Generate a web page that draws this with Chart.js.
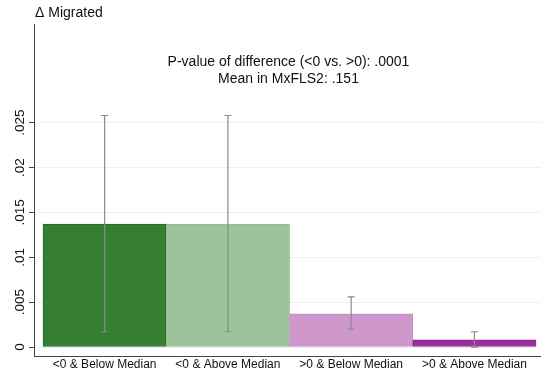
<!DOCTYPE html>
<html>
<head>
<meta charset="utf-8">
<script src="https://cdn.jsdelivr.net/npm/chart.js@4"></script>
<style>
  html, body { margin: 0; padding: 0; background: #fff; }
  #wrap { width: 541px; height: 369px; position: relative; }
</style>
</head>
<body>
<div id="wrap"><canvas id="chart"></canvas></div>
<script>
// Data
const categories = ['<0 & Below Median', '<0 & Above Median', '>0 & Below Median', '>0 & Above Median'];
const means = [0.0137, 0.0137, 0.0037, 0.0008];
const lower = [0.0017, 0.0017, 0.0020, 0.0000];
const upper = [0.0258, 0.0258, 0.0056, 0.0017];
const yTicks = [0, 0.005, 0.01, 0.015, 0.02, 0.025];
const yTickLabels = ['0', '.005', '.01', '.015', '.02', '.025'];
const notes = ['P-value of difference (<0 vs. >0): .0001', 'Mean in MxFLS2: .151'];

const fills = ['#357e32', '#9cc39a', '#cf98cc', '#9c2e9c'];
const borders = ['#1f6b1c', '#92bb90', '#c68cc3', '#86208a'];
const font = "'Liberation Sans', Arial, Helvetica, sans-serif";

// error bars, y tick labels, axis title and the note
const extras = {
    id: 'extras',
    afterDatasetsDraw(chart) {
        const ctx = chart.ctx;
        const x = chart.scales.x;
        const y = chart.scales.y;
        ctx.save();
        ctx.strokeStyle = '#8a8a8a';
        ctx.lineWidth = 1.2;
        categories.forEach((c, i) => {
            const px = x.getPixelForValue(i);
            const top = y.getPixelForValue(upper[i]);
            const bot = y.getPixelForValue(lower[i]);
            ctx.beginPath();
            ctx.moveTo(px, top); ctx.lineTo(px, bot);
            ctx.moveTo(px - 3.5, top); ctx.lineTo(px + 3.5, top);
            ctx.moveTo(px - 3.5, bot); ctx.lineTo(px + 3.5, bot);
            ctx.stroke();
        });

        // rotated y tick labels
        ctx.fillStyle = '#111';
        ctx.font = '13.5px ' + font;
        ctx.textAlign = 'center';
        ctx.textBaseline = 'middle';
        y.ticks.forEach((t, i) => {
            const py = y.getPixelForValue(t.value);
            ctx.save();
            ctx.translate(20, py);
            ctx.rotate(-Math.PI / 2);
            ctx.fillText(yTickLabels[i], 0, 0);
            ctx.restore();
        });

        // axis title
        ctx.font = '14px ' + font;
        ctx.textAlign = 'left';
        ctx.fillText('\u0394 Migrated', chart.chartArea.left + 1, 13);

        // note
        ctx.textAlign = 'center';
        const cx = (chart.chartArea.left + chart.chartArea.right) / 2 + 1;
        ctx.fillText(notes[0], cx, 62);
        ctx.fillText(notes[1], cx, 79);
        ctx.restore();
    }
};

const ctx = document.getElementById('chart').getContext('2d');
new Chart(ctx, {
    type: 'bar',
    data: {
        datasets: [{
            data: means.map((v, i) => ({ x: i, y: v })),
            backgroundColor: fills,
            borderColor: borders,
            borderWidth: 1,
            borderSkipped: false,
            barPercentage: 1,
            categoryPercentage: 1
        }]
    },
    options: {
        responsive: true,
        maintainAspectRatio: false,
        animation: false,
        layout: { padding: { top: 24, right: 0, left: 0, bottom: 0 } },
        plugins: {
            legend: { display: false },
            tooltip: { enabled: false }
        },
        scales: {
            x: {
                type: 'linear',
                offset: false,
                min: -0.573,
                max: 3.54,
                grid: { display: true, offset: false, color: 'transparent', drawTicks: false },
                border: { display: true, color: '#444', width: 1 },
                ticks: {
                    stepSize: 1,
                    includeBounds: false,
                    autoSkip: false,
                    maxRotation: 0,
                    padding: 1,
                    color: '#111',
                    font: { family: font, size: 12 },
                    callback: (v) => Number.isInteger(v) && categories[v] ? categories[v] : ''
                },
                afterFit(scale) { scale.height = 13; }
            },
            y: {
                min: -0.001,
                max: 0.036,
                afterBuildTicks(scale) { scale.ticks = yTicks.map(v => ({ value: v })); },
                grid: { color: '#e9f1f1', tickColor: '#444', tickLength: 5, lineWidth: 1 },
                border: { display: true, color: '#444', width: 1 },
                ticks: { display: false },
                afterFit(scale) { scale.width = 34; }
            }
        }
    },
    plugins: [extras]
});
</script>
</body>
</html>
